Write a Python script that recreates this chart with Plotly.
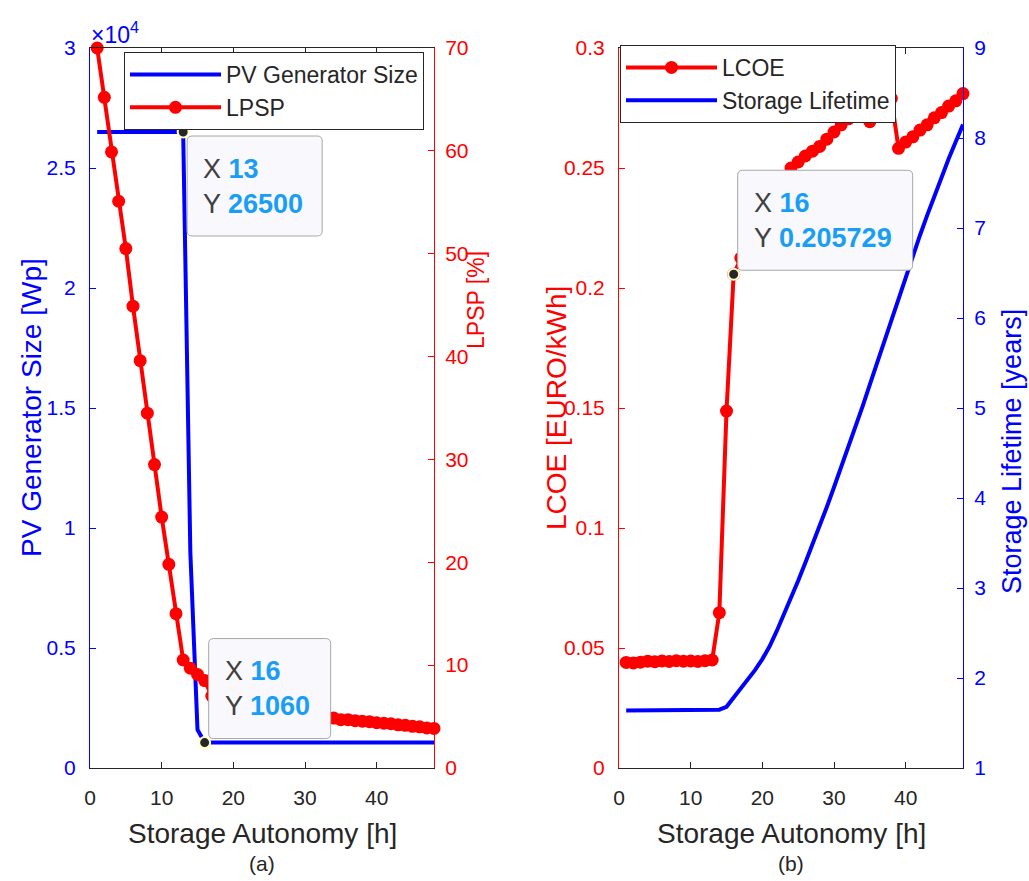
import plotly.graph_objects as go

# ---------------- data ----------------
hours = list(range(1, 49))

pv_size = [26500, 26500, 26500, 26500, 26500, 26500, 26500, 26500, 26500, 26500,
           26500, 26500, 26500, 9000, 1600, 1060, 1060, 1060, 1060, 1060,
           1060, 1060, 1060, 1060, 1060, 1060, 1060, 1060, 1060, 1060,
           1060, 1060, 1060, 1060, 1060, 1060, 1060, 1060, 1060, 1060,
           1060, 1060, 1060, 1060, 1060, 1060, 1060, 1060]

lpsp = [70.0, 65.2, 59.9, 55.1, 50.5, 44.9, 39.6, 34.5, 29.5, 24.4,
        19.8, 15.0, 10.5, 9.7, 9.1, 8.5, 7.0, 6.4, 6.0, 5.8,
        5.65, 5.55, 5.45, 5.4, 5.35, 5.3, 5.25, 5.2, 5.1, 5.05,
        5.0, 4.95, 4.9, 4.85, 4.7, 4.7, 4.6, 4.55, 4.5, 4.4,
        4.35, 4.3, 4.2, 4.15, 4.05, 4.0, 3.9, 3.85]

lcoe = [0.0440, 0.0438, 0.0441, 0.0445, 0.0443, 0.0446, 0.0444, 0.0447, 0.0445, 0.0446,
        0.0444, 0.0447, 0.0450, 0.0647, 0.1487, 0.205729, 0.2125, 0.2190, 0.2260, 0.2320,
        0.2370, 0.2420, 0.2460, 0.2500, 0.2525, 0.2550, 0.2570, 0.2590, 0.2620, 0.2650,
        0.2680, 0.2705, 0.2725, 0.2735, 0.2693, 0.2720, 0.2745, 0.2790, 0.2582, 0.2608,
        0.2630, 0.2658, 0.2680, 0.2709, 0.2731, 0.2758, 0.2780, 0.2810]

lifetime = [1.640, 1.641, 1.640, 1.642, 1.641, 1.642, 1.641, 1.643, 1.642, 1.643,
            1.644, 1.643, 1.645, 1.648, 1.68, 1.78, 1.88, 1.98, 2.09, 2.21,
            2.35, 2.52, 2.70, 2.89, 3.08, 3.28, 3.48, 3.69, 3.90, 4.12,
            4.34, 4.56, 4.79, 5.02, 5.26, 5.50, 5.74, 5.98, 6.22, 6.46,
            6.69, 6.92, 7.14, 7.36, 7.57, 7.77, 7.96, 8.15]

x_ticks = [0, 10, 20, 30, 40]
pv_ticks = [0, 5000, 10000, 15000, 20000, 25000, 30000]
pv_tick_text = ["0", "0.5", "1", "1.5", "2", "2.5", "3"]
lpsp_ticks = [0, 10, 20, 30, 40, 50, 60, 70]
lcoe_ticks = [0, 0.05, 0.10, 0.15, 0.20, 0.25, 0.30]
lcoe_tick_text = ["0", "0.05", "0.1", "0.15", "0.2", "0.25", "0.3"]
life_ticks = [1, 2, 3, 4, 5, 6, 7, 8, 9]

tip_a = 12   # index of datatip X 13
tip_b = 15   # index of datatip X 16

# ---------------- style ----------------
BLUE = "#0000FF"
RED = "#FF0000"
DARK = "#262626"
TIPBLUE = "#1A9EF5"
FONT = "Liberation Sans, Arial, Helvetica, sans-serif"
W, H = 1029, 881
TICK_SIZE = 21
TITLE_SIZE = 28
LEGEND_SIZE = 23
TIP_SIZE = 27

def px(x):
    return x / W

def py(y):
    return 1 - y / H

dom_y = [py(768), py(48)]
dom_x1 = [px(90), px(434)]
dom_x2 = [px(619), px(963)]

fig = go.Figure()

fig.add_trace(go.Scatter(x=hours, y=pv_size, mode="lines", name="PV Generator Size",
                         line=dict(color=BLUE, width=4), xaxis="x", yaxis="y",
                         legend="legend"))
fig.add_trace(go.Scatter(x=hours, y=lpsp, mode="lines+markers", name="LPSP",
                         line=dict(color=RED, width=4), marker=dict(size=13, color=RED),
                         xaxis="x", yaxis="y2", legend="legend", cliponaxis=False))
fig.add_trace(go.Scatter(x=hours, y=lcoe, mode="lines+markers", name="LCOE",
                         line=dict(color=RED, width=4), marker=dict(size=13, color=RED),
                         xaxis="x2", yaxis="y3", legend="legend2", cliponaxis=False))
fig.add_trace(go.Scatter(x=hours, y=lifetime, mode="lines", name="Storage Lifetime",
                         line=dict(color=BLUE, width=4), xaxis="x2", yaxis="y4",
                         legend="legend2"))

tipmarker = dict(size=11, color=DARK, line=dict(color="#FFFFC8", width=2))
fig.add_trace(go.Scatter(x=[hours[tip_a], hours[tip_b]], y=[pv_size[tip_a], pv_size[tip_b]],
                         mode="markers", marker=tipmarker, showlegend=False,
                         xaxis="x", yaxis="y", cliponaxis=False))
fig.add_trace(go.Scatter(x=[hours[tip_b]], y=[lcoe[tip_b]], mode="markers", marker=tipmarker,
                         showlegend=False, xaxis="x2", yaxis="y3", cliponaxis=False))

tickfont = dict(family=FONT, size=TICK_SIZE)

def xax(domain, anchor):
    return dict(domain=domain, anchor=anchor, range=[0, 48], tickvals=x_ticks,
                ticks="inside", ticklen=6, tickcolor=DARK, showline=True, linecolor=DARK,
                linewidth=1, mirror="ticks", showgrid=False, zeroline=False,
                automargin=False, tickfont=dict(tickfont, color=DARK),
                ticklabelstandoff=11)

def yax(domain, anchor, rng, vals, color, side="left", overlaying=None, text=None,
        standoff=9):
    d = dict(domain=domain, anchor=anchor, range=rng, tickvals=vals, ticks="inside",
             ticklen=6, tickcolor=color, showline=True, linecolor=color, linewidth=1,
             showgrid=False, zeroline=False, side=side, automargin=False,
             tickfont=dict(tickfont, color=color), ticklabelstandoff=standoff)
    if text is not None:
        d["ticktext"] = text
    if overlaying:
        d["overlaying"] = overlaying
    return d

legend_common = dict(xanchor="left", yanchor="top", bgcolor="white", bordercolor=DARK,
                     borderwidth=1, font=dict(family=FONT, size=LEGEND_SIZE, color=DARK),
                     itemwidth=91, tracegroupgap=0)

fig.update_layout(
    width=W, height=H, autosize=False,
    margin=dict(l=0, r=0, t=0, b=0, autoexpand=False),
    paper_bgcolor="white", plot_bgcolor="white",
    font=dict(family=FONT, color=DARK),
    xaxis=xax(dom_x1, "y"),
    xaxis2=xax(dom_x2, "y3"),
    yaxis=yax(dom_y, "x", [0, 30000], pv_ticks, BLUE, text=pv_tick_text),
    yaxis2=yax(dom_y, "x", [0, 70], lpsp_ticks, RED, side="right", overlaying="y",
               standoff=6),
    yaxis3=yax(dom_y, "x2", [0, 0.3], lcoe_ticks, RED, text=lcoe_tick_text),
    yaxis4=yax(dom_y, "x2", [1, 9], life_ticks, BLUE, side="right", overlaying="y3",
               standoff=6),
    legend=dict(legend_common, x=px(124), y=py(52)),
    legend2=dict(legend_common, x=px(620), y=py(45)),
    showlegend=True,
)

ann = []

def label(text, x, y, color, size=TITLE_SIZE, angle=0):
    ann.append(dict(text=text, x=px(x), y=py(y), xref="paper", yref="paper",
                    showarrow=False, textangle=angle, xanchor="center", yanchor="middle",
                    font=dict(family=FONT, size=size, color=color)))

label("PV Generator Size [Wp]", 31, 408, BLUE, angle=-90)
label("LPSP [%]", 476, 300, RED, size=23, angle=-90)
label("LCOE [EURO/kWh]", 556, 408, RED, angle=-90)
label("Storage Lifetime [years]", 1012, 452, BLUE, size=27, angle=-90)
label("Storage Autonomy [h]", 262, 833, DARK)
label("Storage Autonomy [h]", 791, 833, DARK)
label("(a)", 262, 863, DARK, size=21)
label("(b)", 791, 863, DARK, size=21)
ann.append(dict(text="×10<sup>4</sup>", x=px(89), y=py(33), xref="paper", yref="paper",
                showarrow=False, xanchor="left", yanchor="middle",
                font=dict(family=FONT, size=23, color=BLUE)))

shapes = []

def rounded_box(x0, y0, x1, y1, r=5):
    # pixel offsets relative to the anchor, y positive upwards; y0 is the top edge
    return (f"M{x0 + r},{y0} L{x1 - r},{y0} Q{x1},{y0} {x1},{y0 - r} "
            f"L{x1},{y1 + r} Q{x1},{y1} {x1 - r},{y1} L{x0 + r},{y1} "
            f"Q{x0},{y1} {x0},{y1 + r} L{x0},{y0 - r} Q{x0},{y0} {x0 + r},{y0} Z")

def tip(xv, yv, xr, yr, below, w, h=100):
    val = f"{yv:g}"
    txt = (f"X <b><span style='color:{TIPBLUE}'>{xv}</span></b><br>"
           f"Y <b><span style='color:{TIPBLUE}'>{val}</span></b>")
    if below:
        top, bottom = -4, -4 - h
    else:
        top, bottom = 4 + h, 4
    shapes.append(dict(type="path", xref=xr, yref=yr, xsizemode="pixel", ysizemode="pixel",
                       xanchor=xv, yanchor=yv, path=rounded_box(4, top, 4 + w, bottom),
                       line=dict(color="#A8A8A8", width=1), fillcolor="#F8F8FD",
                       layer="above"))
    ann.append(dict(text=txt, x=xv, y=yv, xref=xr, yref=yr, showarrow=False,
                    xanchor="left", yanchor="middle", xshift=18, yshift=(top + bottom) / 2,
                    align="left", font=dict(family=FONT, size=TIP_SIZE, color="#404040")))

tip(hours[tip_a], pv_size[tip_a], "x", "y", True, 135)
tip(hours[tip_b], pv_size[tip_b], "x", "y", False, 122)
tip(hours[tip_b], lcoe[tip_b], "x2", "y3", False, 175)

fig.update_layout(annotations=ann, shapes=shapes)

fig.write_html("out.html", config=dict(displayModeBar=False))
